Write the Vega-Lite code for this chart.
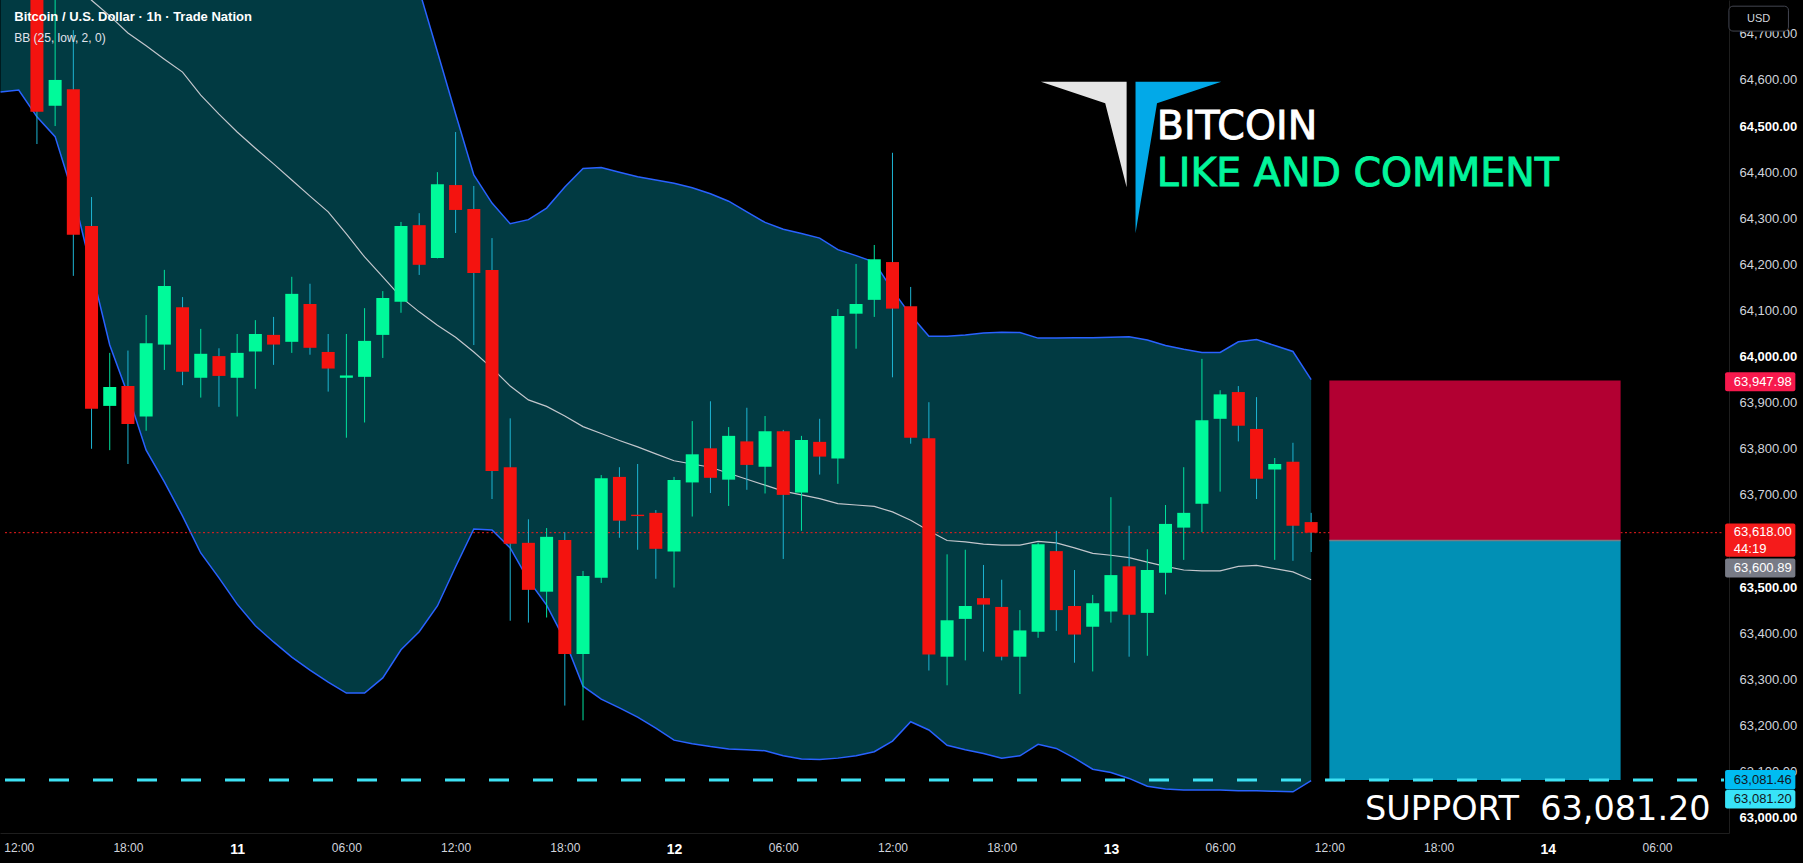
{
  "$schema": "https://vega.github.io/schema/vega-lite/v6.json",
  "width": 1729,
  "height": 833,
  "autosize": {"type": "none"},
  "padding": {"left": 0, "top": 0, "right": 74, "bottom": 30},
  "background": "#000000",
  "config": {"view": {"stroke": null}},
  "resolve": {"axis": {"x": "independent", "y": "independent"}},
  "datasets": {
    "candles": [
      {"t":13,"o":64850,"h":64900,"l":64461,"c":64531},
      {"t":14,"o":64544,"h":64790,"l":64500,"c":64600},
      {"t":15,"o":64580,"h":64708,"l":64175,"c":64264},
      {"t":16,"o":64283,"h":64346,"l":63800,"c":63887},
      {"t":17,"o":63893,"h":64008,"l":63797,"c":63934},
      {"t":18,"o":63936,"h":64013,"l":63767,"c":63854},
      {"t":19,"o":63870,"h":64090,"l":63839,"c":64029},
      {"t":20,"o":64026,"h":64188,"l":63971,"c":64153},
      {"t":21,"o":64107,"h":64129,"l":63938,"c":63967},
      {"t":22,"o":63954,"h":64060,"l":63911,"c":64006},
      {"t":23,"o":64001,"h":64018,"l":63891,"c":63958},
      {"t":24,"o":63954,"h":64049,"l":63870,"c":64008},
      {"t":25,"o":64011,"h":64079,"l":63930,"c":64049},
      {"t":26,"o":64047,"h":64086,"l":63982,"c":64026},
      {"t":27,"o":64032,"h":64173,"l":64008,"c":64136},
      {"t":28,"o":64114,"h":64158,"l":64004,"c":64019},
      {"t":29,"o":64010,"h":64049,"l":63924,"c":63974},
      {"t":30,"o":63954,"h":64049,"l":63824,"c":63959},
      {"t":31,"o":63956,"h":64105,"l":63857,"c":64034},
      {"t":32,"o":64047,"h":64142,"l":63997,"c":64127},
      {"t":33,"o":64119,"h":64292,"l":64095,"c":64283},
      {"t":34,"o":64285,"h":64311,"l":64177,"c":64199},
      {"t":35,"o":64214,"h":64400,"l":64213,"c":64374},
      {"t":36,"o":64372,"h":64487,"l":64268,"c":64318},
      {"t":37,"o":64320,"h":64370,"l":64025,"c":64181},
      {"t":38,"o":64188,"h":64257,"l":63691,"c":63752},
      {"t":39,"o":63760,"h":63866,"l":63427,"c":63594},
      {"t":40,"o":63596,"h":63647,"l":63423,"c":63494},
      {"t":41,"o":63490,"h":63628,"l":63434,"c":63609},
      {"t":42,"o":63602,"h":63619,"l":63243,"c":63355},
      {"t":43,"o":63355,"h":63535,"l":63211,"c":63524},
      {"t":44,"o":63520,"h":63743,"l":63509,"c":63736},
      {"t":45,"o":63739,"h":63760,"l":63607,"c":63644},
      {"t":46,"o":63657,"h":63767,"l":63581,"c":63654},
      {"t":47,"o":63661,"h":63667,"l":63518,"c":63583},
      {"t":48,"o":63577,"h":63739,"l":63499,"c":63732},
      {"t":49,"o":63727,"h":63860,"l":63653,"c":63788},
      {"t":50,"o":63801,"h":63903,"l":63704,"c":63737},
      {"t":51,"o":63733,"h":63847,"l":63676,"c":63828},
      {"t":52,"o":63816,"h":63889,"l":63711,"c":63765},
      {"t":53,"o":63761,"h":63871,"l":63703,"c":63838},
      {"t":54,"o":63838,"h":63841,"l":63561,"c":63700},
      {"t":55,"o":63705,"h":63828,"l":63622,"c":63819},
      {"t":56,"o":63815,"h":63865,"l":63744,"c":63783},
      {"t":57,"o":63779,"h":64103,"l":63724,"c":64088},
      {"t":58,"o":64093,"h":64201,"l":64017,"c":64114},
      {"t":59,"o":64123,"h":64242,"l":64086,"c":64211},
      {"t":60,"o":64205,"h":64442,"l":63955,"c":64104},
      {"t":61,"o":64109,"h":64151,"l":63811,"c":63824},
      {"t":62,"o":63823,"h":63901,"l":63319,"c":63354},
      {"t":63,"o":63349,"h":63571,"l":63287,"c":63428},
      {"t":64,"o":63431,"h":63581,"l":63341,"c":63459},
      {"t":65,"o":63476,"h":63548,"l":63360,"c":63462},
      {"t":66,"o":63457,"h":63516,"l":63341,"c":63349},
      {"t":67,"o":63349,"h":63450,"l":63268,"c":63406},
      {"t":68,"o":63403,"h":63596,"l":63390,"c":63593},
      {"t":69,"o":63578,"h":63622,"l":63405,"c":63450},
      {"t":70,"o":63459,"h":63537,"l":63336,"c":63397},
      {"t":71,"o":63414,"h":63483,"l":63317,"c":63465},
      {"t":72,"o":63447,"h":63695,"l":63423,"c":63526},
      {"t":73,"o":63545,"h":63633,"l":63349,"c":63440},
      {"t":74,"o":63444,"h":63582,"l":63351,"c":63537},
      {"t":75,"o":63531,"h":63678,"l":63484,"c":63637},
      {"t":76,"o":63629,"h":63760,"l":63559,"c":63661},
      {"t":77,"o":63681,"h":63995,"l":63619,"c":63862},
      {"t":78,"o":63865,"h":63927,"l":63707,"c":63918},
      {"t":79,"o":63923,"h":63936,"l":63816,"c":63850},
      {"t":80,"o":63843,"h":63912,"l":63691,"c":63735},
      {"t":81,"o":63755,"h":63780,"l":63559,"c":63767},
      {"t":82,"o":63772,"h":63813,"l":63557,"c":63633},
      {"t":83,"o":63641,"h":63661,"l":63576,"c":63618}
    ],
    "bands": [
      {"t":11,"up":65350,"mid":64945,"lo":64574},
      {"t":12,"up":65360,"mid":64914,"lo":64578},
      {"t":13,"up":65380,"mid":64882,"lo":64520},
      {"t":14,"up":65400,"mid":64847,"lo":64477},
      {"t":15,"up":65420,"mid":64810,"lo":64350},
      {"t":16,"up":65440,"mid":64773,"lo":64188},
      {"t":17,"up":65460,"mid":64739,"lo":64025},
      {"t":18,"up":65480,"mid":64702,"lo":63917},
      {"t":19,"up":65500,"mid":64674,"lo":63797},
      {"t":20,"up":65520,"mid":64645,"lo":63728},
      {"t":21,"up":65540,"mid":64617,"lo":63654},
      {"t":22,"up":65550,"mid":64567,"lo":63574},
      {"t":23,"up":65560,"mid":64526,"lo":63520},
      {"t":24,"up":65560,"mid":64487,"lo":63463},
      {"t":25,"up":65550,"mid":64452,"lo":63416},
      {"t":26,"up":65530,"mid":64418,"lo":63381},
      {"t":27,"up":65500,"mid":64383,"lo":63348},
      {"t":28,"up":65450,"mid":64348,"lo":63320},
      {"t":29,"up":65380,"mid":64314,"lo":63294},
      {"t":30,"up":65290,"mid":64266,"lo":63270},
      {"t":31,"up":65180,"mid":64216,"lo":63270},
      {"t":32,"up":65060,"mid":64173,"lo":63303},
      {"t":33,"up":64930,"mid":64129,"lo":63364},
      {"t":34,"up":64795,"mid":64097,"lo":63403},
      {"t":35,"up":64661,"mid":64068,"lo":63459},
      {"t":36,"up":64526,"mid":64042,"lo":63544},
      {"t":37,"up":64394,"mid":64010,"lo":63626},
      {"t":38,"up":64333,"mid":63975,"lo":63624},
      {"t":39,"up":64288,"mid":63936,"lo":63585},
      {"t":40,"up":64297,"mid":63906,"lo":63515},
      {"t":41,"up":64322,"mid":63892,"lo":63461},
      {"t":42,"up":64368,"mid":63871,"lo":63385},
      {"t":43,"up":64408,"mid":63848,"lo":63285},
      {"t":44,"up":64410,"mid":63833,"lo":63257},
      {"t":45,"up":64400,"mid":63818,"lo":63238},
      {"t":46,"up":64390,"mid":63804,"lo":63218},
      {"t":47,"up":64383,"mid":63789,"lo":63194},
      {"t":48,"up":64376,"mid":63774,"lo":63168},
      {"t":49,"up":64366,"mid":63767,"lo":63160},
      {"t":50,"up":64353,"mid":63760,"lo":63154},
      {"t":51,"up":64337,"mid":63747,"lo":63149},
      {"t":52,"up":64314,"mid":63734,"lo":63147},
      {"t":53,"up":64291,"mid":63721,"lo":63145},
      {"t":54,"up":64276,"mid":63708,"lo":63134},
      {"t":55,"up":64267,"mid":63700,"lo":63127},
      {"t":56,"up":64257,"mid":63692,"lo":63126},
      {"t":57,"up":64232,"mid":63681,"lo":63129},
      {"t":58,"up":64219,"mid":63678,"lo":63134},
      {"t":59,"up":64205,"mid":63675,"lo":63143},
      {"t":60,"up":64144,"mid":63663,"lo":63166},
      {"t":61,"up":64090,"mid":63645,"lo":63208},
      {"t":62,"up":64044,"mid":63622,"lo":63190},
      {"t":63,"up":64044,"mid":63601,"lo":63157},
      {"t":64,"up":64047,"mid":63598,"lo":63147},
      {"t":65,"up":64051,"mid":63593,"lo":63139},
      {"t":66,"up":64053,"mid":63591,"lo":63129},
      {"t":67,"up":64052,"mid":63591,"lo":63134},
      {"t":68,"up":64040,"mid":63599,"lo":63159},
      {"t":69,"up":64040,"mid":63596,"lo":63150},
      {"t":70,"up":64041,"mid":63585,"lo":63129},
      {"t":71,"up":64041,"mid":63573,"lo":63105},
      {"t":72,"up":64042,"mid":63569,"lo":63098},
      {"t":73,"up":64043,"mid":63564,"lo":63085},
      {"t":74,"up":64036,"mid":63554,"lo":63068},
      {"t":75,"up":64024,"mid":63545,"lo":63062},
      {"t":76,"up":64016,"mid":63537,"lo":63060},
      {"t":77,"up":64009,"mid":63535,"lo":63060},
      {"t":78,"up":64009,"mid":63535,"lo":63060},
      {"t":79,"up":64032,"mid":63545,"lo":63058},
      {"t":80,"up":64037,"mid":63547,"lo":63058},
      {"t":81,"up":64024,"mid":63540,"lo":63057},
      {"t":82,"up":64011,"mid":63533,"lo":63056},
      {"t":83,"up":63950,"mid":63516,"lo":63080}
    ],
    "position": [
      {"kind":"posStop","t1":84,"t2":100,"p1":63600.89,"p2":63947.98},
      {"kind":"posTarget","t1":84,"t2":100,"p1":63081.46,"p2":63600.89}
    ],
    "lastPrice": [{"t1":11.246,"t2":105.68,"p":63618}],
    "support": [{"t1":11.246,"t2":105.68,"p":63081.46}],
    "entry": [{"t1":84,"t2":100,"p":63600.89}],
    "logo": [{"t":73.11,"p":64431.8}],
    "tagBoxes": [
      {"kind":"stop","t1":105.74,"t2":109.6,"p1":63925,"p2":63966},
      {"kind":"last","t1":105.74,"t2":109.6,"p1":63566,"p2":63638},
      {"kind":"entry","t1":105.74,"t2":109.6,"p1":63521,"p2":63562},
      {"kind":"target","t1":105.74,"t2":109.6,"p1":63061,"p2":63103},
      {"kind":"support","t1":105.74,"t2":109.6,"p1":63020,"p2":63060}
    ],
    "tagTexts": [
      {"kind":"stop","t":106.22,"p":63945.5,"label":"63,947.98"},
      {"kind":"last","t":106.22,"p":63619,"label":"63,618.00"},
      {"kind":"last","t":106.22,"p":63583,"label":"44:19"},
      {"kind":"entry","t":106.22,"p":63542,"label":"63,600.89"},
      {"kind":"target","t":106.22,"p":63082,"label":"63,081.46"},
      {"kind":"support","t":106.22,"p":63040,"label":"63,081.20"}
    ]
  },
  "layer": [
    {
      "data": {"name": "bands"},
      "mark": {"type": "area", "clip": true, "color": "#013a42", "opacity": 1},
      "encoding": {
        "x": {"field": "t", "type": "quantitative", "scale": {"domain": [11.246, 105.68], "nice": false, "zero": false},
          "axis": {"orient": "bottom", "title": null, "grid": false, "ticks": false, "domain": true, "domainColor": "#1e1e1e",
            "values": [12,18,24,30,36,42,48,54,60,66,72,78,84,90,96,102],
            "labelExpr": "datum.value % 24 === 0 ? '' + (10 + datum.value / 24) : ((datum.value % 24) < 10 ? '0' : '') + (datum.value % 24) + ':00'",
            "labelFont": "Liberation Sans",
            "labelFontSize": {"condition": {"test": "datum.value % 24 === 0", "value": 14}, "value": 12},
            "labelFontWeight": {"condition": {"test": "datum.value % 24 === 0", "value": "bold"}, "value": "normal"},
            "labelColor": {"condition": {"test": "datum.value % 24 === 0", "value": "#ffffff"}, "value": "#d1d4dc"},
            "labelPadding": 9, "labelFlush": false, "labelOverlap": false, "labelBound": false}},
        "y": {"field": "up", "type": "quantitative", "scale": {"domain": [62966.6, 64773.4], "nice": false, "zero": false},
          "axis": {"orient": "right", "title": null, "grid": false, "ticks": false, "domain": true, "domainColor": "#1e1e1e",
            "values": [63000,63100,63200,63300,63400,63500,63700,63800,63900,64000,64100,64200,64300,64400,64500,64600,64700],
            "labelExpr": "format(datum.value, ',.2f')",
            "labelFont": "Liberation Sans", "labelFontSize": 13, "labelAlign": "left", "labelPadding": 10,
            "labelFontWeight": {"condition": {"test": "datum.value % 500 === 0", "value": "bold"}, "value": "normal"},
            "labelColor": {"condition": {"test": "datum.value % 500 === 0", "value": "#ffffff"}, "value": "#d1d4dc"},
            "labelFlush": false, "labelOverlap": false, "labelBound": false}},
        "y2": {"field": "lo"}
      }
    },
    {
      "data": {"name": "bands"},
      "mark": {"type": "line", "clip": true, "color": "#2962ff", "strokeWidth": 1.5},
      "encoding": {
        "x": {"field": "t", "type": "quantitative", "axis": null},
        "y": {"field": "up", "type": "quantitative", "axis": null}
      }
    },
    {
      "data": {"name": "bands"},
      "mark": {"type": "line", "clip": true, "color": "#2962ff", "strokeWidth": 1.5},
      "encoding": {
        "x": {"field": "t", "type": "quantitative", "axis": null},
        "y": {"field": "lo", "type": "quantitative", "axis": null}
      }
    },
    {
      "data": {"name": "bands"},
      "mark": {"type": "line", "clip": true, "color": "#c3c6cc", "strokeWidth": 1.2},
      "encoding": {
        "x": {"field": "t", "type": "quantitative", "axis": null},
        "y": {"field": "mid", "type": "quantitative", "axis": null}
      }
    },
    {
      "data": {"name": "lastPrice"},
      "mark": {"type": "rule", "clip": true, "color": "#f21c1c", "strokeWidth": 1, "strokeDash": [2, 2.5]},
      "encoding": {
        "x": {"field": "t1", "type": "quantitative", "axis": null},
        "x2": {"field": "t2"},
        "y": {"field": "p", "type": "quantitative", "axis": null}
      }
    },
    {
      "data": {"name": "candles"},
      "mark": {"type": "rule", "clip": true, "strokeWidth": 1},
      "encoding": {
        "x": {"field": "t", "type": "quantitative", "axis": null},
        "y": {"field": "l", "type": "quantitative", "axis": null},
        "y2": {"field": "h"},
        "color": {"condition": {"test": "datum.c < datum.o", "value": "#1db4d2"}, "value": "#00e29e"}
      }
    },
    {
      "data": {"name": "candles"},
      "mark": {"type": "bar", "clip": true, "width": 13, "minBandSize": 1},
      "encoding": {
        "x": {"field": "t", "type": "quantitative", "axis": null},
        "y": {"field": "o", "type": "quantitative", "axis": null},
        "y2": {"field": "c"},
        "color": {"condition": {"test": "datum.c < datum.o", "value": "#f4130f"}, "value": "#00fa9a"}
      }
    },
    {
      "data": {"name": "position"},
      "mark": {"type": "rect", "clip": true},
      "encoding": {
        "x": {"field": "t1", "type": "quantitative", "axis": null},
        "x2": {"field": "t2"},
        "y": {"field": "p1", "type": "quantitative", "axis": null},
        "y2": {"field": "p2"},
        "color": {"field": "kind", "type": "nominal", "legend": null,
          "scale": {"domain": ["posStop","posTarget","stop","last","entry","target","support"],
                    "range": ["#b20032","#0190b5","#f7194d","#f51b1b","#787b86","#00bcf2","#38e3f8"]}}
      }
    },
    {
      "data": {"name": "entry"},
      "mark": {"type": "rule", "clip": true, "color": "#787b86", "strokeWidth": 1.5},
      "encoding": {
        "x": {"field": "t1", "type": "quantitative", "axis": null},
        "x2": {"field": "t2"},
        "y": {"field": "p", "type": "quantitative", "axis": null}
      }
    },
    {
      "data": {"name": "support"},
      "mark": {"type": "rule", "clip": true, "color": "#3ee2f4", "strokeWidth": 3, "strokeDash": [20, 24]},
      "encoding": {
        "x": {"field": "t1", "type": "quantitative", "axis": null},
        "x2": {"field": "t2"},
        "y": {"field": "p", "type": "quantitative", "axis": null}
      }
    },
    {
      "data": {"name": "logo"},
      "mark": {"type": "point", "filled": true, "opacity": 1, "size": 40000, "color": "#e6e6e6", "strokeWidth": 0,
        "shape": "M-0.902,-0.758 L-0.045,-0.758 L-0.045,0.298 L-0.259,-0.542 Z"},
      "encoding": {
        "x": {"field": "t", "type": "quantitative", "axis": null},
        "y": {"field": "p", "type": "quantitative", "axis": null}
      }
    },
    {
      "data": {"name": "logo"},
      "mark": {"type": "point", "filled": true, "opacity": 1, "size": 40000, "color": "#02a9e8", "strokeWidth": 0,
        "shape": "M0.044,-0.758 L0.902,-0.758 L0.259,-0.542 L0.044,0.758 Z"},
      "encoding": {
        "x": {"field": "t", "type": "quantitative", "axis": null},
        "y": {"field": "p", "type": "quantitative", "axis": null}
      }
    },
    {
      "data": {"values": [{"t": 74.52, "p": 64471.9, "label": "BITCOIN"}]},
      "mark": {"type": "text", "align": "left", "baseline": "alphabetic", "font": "DejaVu Sans", "fontSize": 39.5, "color": "#ffffff", "stroke": "#ffffff", "strokeWidth": 0.9},
      "encoding": {
        "x": {"field": "t", "type": "quantitative", "axis": null},
        "y": {"field": "p", "type": "quantitative", "axis": null},
        "text": {"field": "label"}
      }
    },
    {
      "data": {"values": [{"t": 74.52, "p": 64368.9, "label": "LIKE AND COMMENT"}]},
      "mark": {"type": "text", "align": "left", "baseline": "alphabetic", "font": "DejaVu Sans", "fontSize": 39.5, "color": "#02f59b", "stroke": "#02f59b", "strokeWidth": 0.9},
      "encoding": {
        "x": {"field": "t", "type": "quantitative", "axis": null},
        "y": {"field": "p", "type": "quantitative", "axis": null},
        "text": {"field": "label"}
      }
    },
    {
      "data": {"values": [{"t": 85.96, "p": 62994.8, "label": "SUPPORT\u00a0\u00a063,081.20"}]},
      "mark": {"type": "text", "align": "left", "baseline": "alphabetic", "font": "DejaVu Sans", "fontSize": 33.5, "color": "#ffffff"},
      "encoding": {
        "x": {"field": "t", "type": "quantitative", "axis": null},
        "y": {"field": "p", "type": "quantitative", "axis": null},
        "text": {"field": "label"}
      }
    },
    {
      "data": {"values": [{"t": 11.754, "p": 64736.5, "label": "Bitcoin / U.S. Dollar · 1h · Trade Nation"}]},
      "mark": {"type": "text", "align": "left", "baseline": "middle", "font": "Liberation Sans", "fontSize": 13, "fontWeight": "bold", "color": "#ffffff"},
      "encoding": {
        "x": {"field": "t", "type": "quantitative", "axis": null},
        "y": {"field": "p", "type": "quantitative", "axis": null},
        "text": {"field": "label"}
      }
    },
    {
      "data": {"values": [{"t": 11.754, "p": 64691, "label": "BB (25, low, 2, 0)"}]},
      "mark": {"type": "text", "align": "left", "baseline": "middle", "font": "Liberation Sans", "fontSize": 12, "color": "#e0e3eb"},
      "encoding": {
        "x": {"field": "t", "type": "quantitative", "axis": null},
        "y": {"field": "p", "type": "quantitative", "axis": null},
        "text": {"field": "label"}
      }
    },
    {
      "data": {"name": "tagBoxes"},
      "mark": {"type": "rect", "clip": false, "cornerRadius": 2},
      "encoding": {
        "x": {"field": "t1", "type": "quantitative", "axis": null},
        "x2": {"field": "t2"},
        "y": {"field": "p1", "type": "quantitative", "axis": null},
        "y2": {"field": "p2"},
        "color": {"field": "kind", "type": "nominal", "legend": null}
      }
    },
    {
      "data": {"name": "tagTexts"},
      "mark": {"type": "text", "clip": false, "align": "left", "baseline": "middle", "font": "Liberation Sans", "fontSize": 13},
      "encoding": {
        "x": {"field": "t", "type": "quantitative", "axis": null},
        "y": {"field": "p", "type": "quantitative", "axis": null},
        "text": {"field": "label"},
        "color": {"condition": {"test": "datum.kind === 'target' || datum.kind === 'support'", "value": "#131722"}, "value": "#ffffff"}
      }
    },
    {
      "data": {"values": [{"t1": 105.95, "t2": 109.22, "p1": 64706, "p2": 64760}]},
      "mark": {"type": "rect", "clip": false, "cornerRadius": 4, "fill": "#000000", "stroke": "#434651", "strokeWidth": 1},
      "encoding": {
        "x": {"field": "t1", "type": "quantitative", "axis": null},
        "x2": {"field": "t2"},
        "y": {"field": "p1", "type": "quantitative", "axis": null},
        "y2": {"field": "p2"}
      }
    },
    {
      "data": {"values": [{"t": 107.58, "p": 64733, "label": "USD"}]},
      "mark": {"type": "text", "clip": false, "align": "center", "baseline": "middle", "font": "Liberation Sans", "fontSize": 11, "color": "#d1d4dc"},
      "encoding": {
        "x": {"field": "t", "type": "quantitative", "axis": null},
        "y": {"field": "p", "type": "quantitative", "axis": null},
        "text": {"field": "label"}
      }
    }
  ]
}
